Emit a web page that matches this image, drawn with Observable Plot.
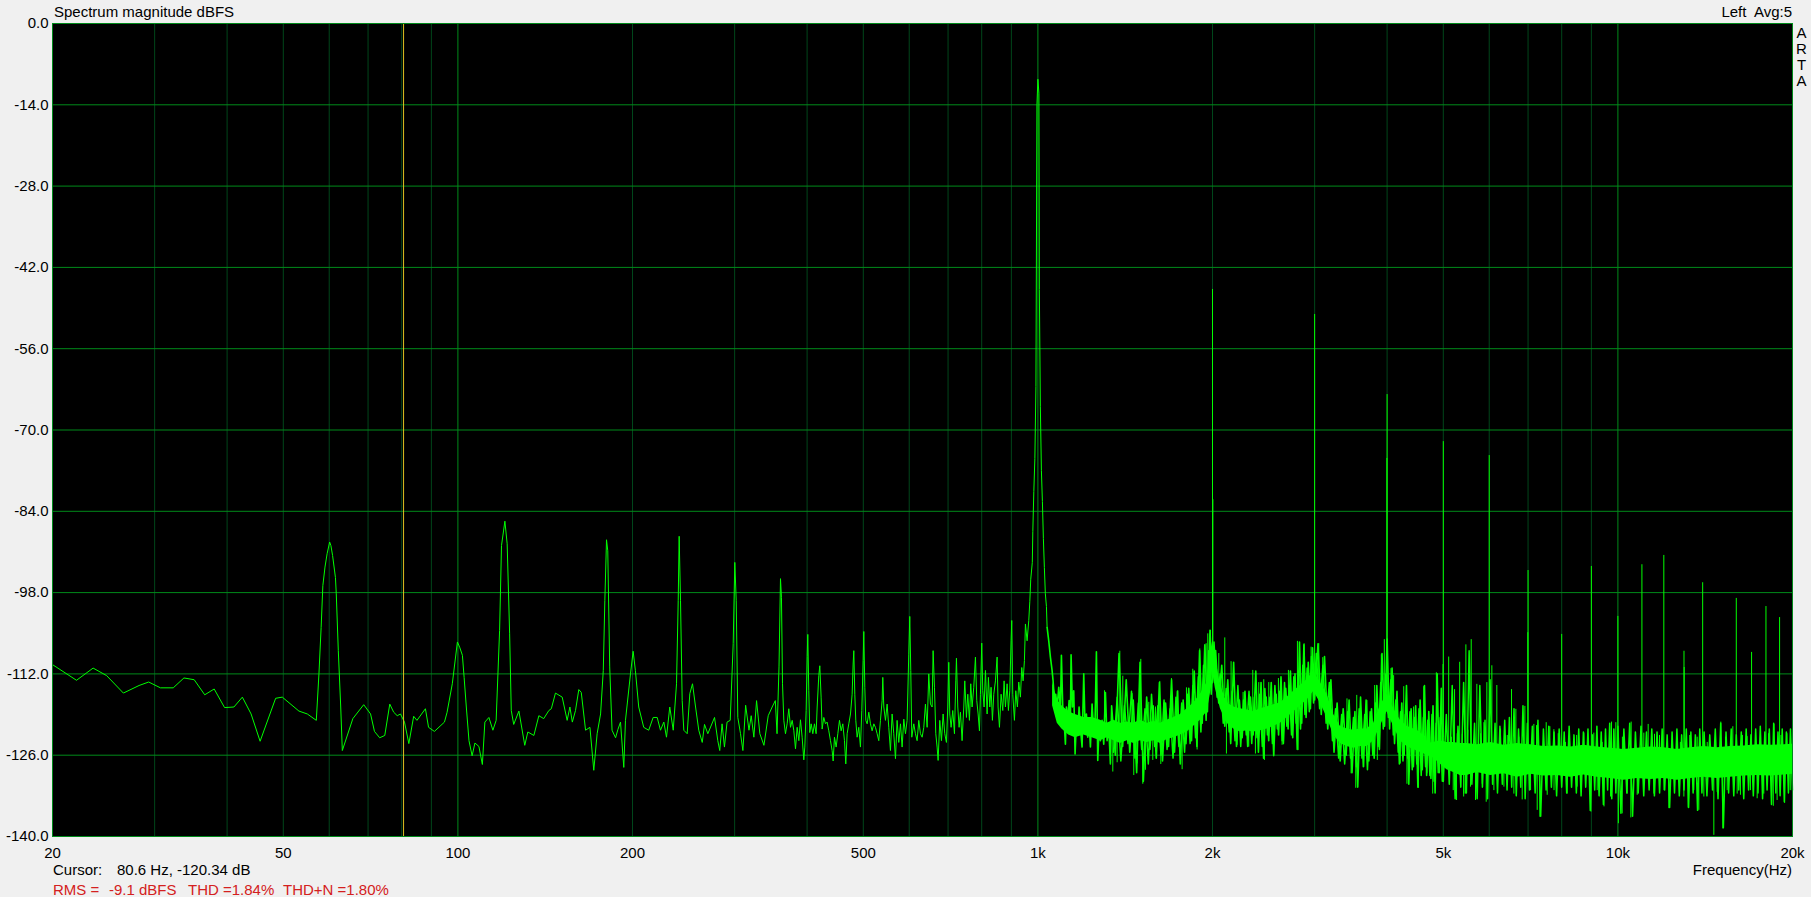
<!DOCTYPE html>
<html><head><meta charset="utf-8">
<script src="https://cdn.jsdelivr.net/npm/d3@7"></script>
<script src="https://cdn.jsdelivr.net/npm/@observablehq/plot@0.6"></script>
<style>
html,body{margin:0;padding:0;background:#f0f0f0;overflow:hidden;}
#wrap{position:relative;width:1811px;height:897px;font-family:"Liberation Sans",Arial,sans-serif;font-size:15px;color:#000;}
#wrap svg{position:absolute;left:0;top:0;}
.t{position:absolute;line-height:15px;white-space:pre;}
.red{color:#d42020;}
</style></head><body><div id="wrap"></div>
<script>
// ---- trace as a polyline, 20 Hz .. 20 kHz (dB values) ----
const lineF = [20,22.0,23.5,24.8,26.5,28.2,29.3,30.7,32.3,33.7,35.1,36.6,38.0,39.6,41.1,42.5,44.0,45.6,48.5,49.8,53.2,55.0,57.0,57.6,58.1,58.5,59.0,59.5,60.1,60.4,60.8,61.5,61.7,62.2,62.8,63.2,65.9,68.8,70.7,71.8,73.3,74.8,76.3,77.5,78.6,79.6,80.9,82.3,83.9,85.0,87.9,89.0,91.1,94.8,95.8,97.8,99.8,100.7,101.8,102.5,103.4,104.5,105.8,107.0,108.7,110.2,111.3,113.1,114.9,116.4,118.0,118.9,120.5,121.6,122.8,123.6,124.8,127.4,130.4,132.0,135.2,137.9,140.6,143.5,144.9,147.3,151.3,154.3,156.0,157.5,159.5,161.6,163.2,166.0,168.9,171.5,173.8,176.2,178.1,179.2,180.4,181.3,182.7,184.4,187.0,188.7,190.7,193.2,194.5,198.4,200.5,202.3,205.0,209.1,213.3,217.1,220.6,223.5,226.5,228.9,231.9,235.1,238.2,239.8,240.7,242.0,243.6,245.2,248.5,251.1,253.8,256.9,260.2,263.8,266.2,269.7,277.0,280.6,282.8,285.4,288.1,291.1,294.8,298.3,300.2,301.9,303.8,307.1,310.0,313.4,317.6,320.4,323.8,327.3,331.6,337.0,342.8,348.2,352.6,355.0,357.8,359.9,361.3,362.8,
364.7,367.1,369.5,372.0,374.5,377.0,379.5,382.0,384.5,387.1,389.6,392.2,394.8,396.4,398.5,400.1,401.1,402.7,404.3,406.5,409.2,411.9,414.6,416.3,419.0,420.7,422.9,424.6,427.4,430.3,433.1,436.0,438.9,441.8,443.6,445.9,448.9,451.9,454.9,457.9,460.9,464.0,466.4,468.9,472.0,475.2,478.3,480.2,481.5,483.4,485.3,487.9,491.1,494.4,497.0,499.7,501.0,503.0,505.0,507.7,511.0,514.4,517.8,521.3,524.7,528.2,531.7,535.2,538.8,540.2,542.4,546.0,549.6,553.2,556.9,560.6,564.3,568.1,571.8,575.6,579.5,583.3,587.2,591.1,595.0,598.9,601.3,603.7,606.1,610.9,615.0,619.1,623.2,627.3,631.5,635.7,639.9,644.2,648.4,652.7,657.1,659.7,663.2,666.7,670.2,672.9,677.4,681.9,686.4,690.9,695.5,699.2,702.0,704.8,708.5,713.2,718.0,721.8,723.7,727.5,731.4,735.3,740.1,745.1,748.0,753.0,757.0,762.0,766.0,770.1,775.2,780.4,784.5,788.7,792.9,796.0,800.2,803.4,807.7,812.0,817.4,821.7,826.1,830.4,834.8,839.3,844.9,850.5,853.8,858.4,864.1,869.8,874.4,879.1,884.9,889.6,894.3,899.0,901.4,905.0,911.0,915.9,921.9,926.8,933.0,937.9,942.9,947.9,951.7,958.0,964.4,
968.4,972.0,978.0,980.0,983.9,988.0,992.2,996.2,1000.0,1004.0,1005.8,1009.8,1014.0,1018.0,1022.0,1026.0,1030.0,1034.5,
1037.2,1044.0,1050.9,1057.9,1062.1,1067.8,1073.4,1079.1,1086.3,1093.5,1097.8,1103.7,1109.5,1115.4,1119.9,1125.8,1131.8,1137.8,1140.8,1146.9,1152.9,1159.1,1165.2,1171.4,1177.6,1183.8,1191.7,1199.6,1206.0,1212.4,1218.8,1225.3,1231.8,1240.0,1248.2,1254.8,1261.5,1268.2,1274.9,1281.7,1290.2,1298.7,1307.4,1316.1,1324.8,1333.6,
1340,1360,1380,1400,1420,1440,1460,1480,1500,1520,1540,1560,1580,1600,1620,1640,1660,1680,1700,1720,1740,1760,1780,1800,1820,1840,1860,1880,1900,1920,1940,1960,1980,2000,
2025,2050,2075,2100,2125,2150,2175,2200,2225,2250,2275,2300,2325,2350,2375,2400,2425,2450,2475,2500,2525,2550,2575,2600,2625,2650,2675,2700,2725,2750,2775,2800,2825,2850,2875,2900,2925,2950,2975,3000,
3040,3080,3120,3160,3200,3240,3280,3320,3360,3400,3440,3480,3520,3560,3600,3640,3680,3720,3760,3800,3840,3880,3920,3960,4000,4040,4080,4120,4160,4200,4240,4280,4320,4360,4400,4440,4480,4520,4560,4600,4640,4680,4720,4760,4800,4840,4880,4920,4960,5000,
5060,5120,5180,5240,5300,5360,5420,5480,5540,5600,5660,5720,5780,5840,5900,5960,6020,6080,6140,6200,6260,6320,6380,6440,6500,6560,6620,6680,6740,6800,6860,6920,6980,7040,
7120,7200,7280,7360,7440,7520,7600,7680,7760,7840,7920,8000,8080,8160,8240,8320,8400,8480,8560,8640,8720,8800,8880,8960,9040,9120,9200,9280,9360,9440,9520,9600,9680,9760,9840,9920,10000,
10120,10240,10360,10480,10600,10720,10840,10960,11080,11200,11320,11440,11560,11680,11800,11920,12040,12160,12280,12400,12520,12640,12760,12880,13000,13120,13240,13360,13480,13600,13720,13840,13960,14080,
14240,14400,14560,14720,14880,15040,15200,15360,15520,15680,15840,16000,16160,16320,16480,16640,16800,16960,17120,17280,17440,17600,17760,17920,18080,18240,18400,18560,18720,18880,19040,19200,19360,19520,19680,19840,20000];
const lineDb = [-110.4,-113.1,-111.0,-112.3,-115.3,-114.0,-113.4,-114.4,-114.4,-112.7,-113.0,-115.6,-114.6,-117.8,-117.7,-116.0,-118.9,-123.6,-116.2,-116.0,-118.4,-118.9,-120.0,-112.0,-104.0,-96.8,-93.6,-91.3,-89.3,-89.9,-91.6,-95.4,-98.2,-108.0,-117.7,-125.2,-119.7,-117.3,-118.9,-121.9,-123.0,-122.6,-117.2,-118.6,-119.2,-118.9,-120.3,-124.0,-119.3,-120.0,-118.0,-121.2,-121.9,-120.3,-118.6,-113.7,-106.5,-107.4,-108.8,-112.6,-117.7,-123.5,-126.1,-123.9,-124.5,-127.6,-120.3,-119.5,-121.7,-120.0,-104.5,-89.9,-85.7,-89.6,-105.1,-118.3,-120.7,-118.4,-124.3,-122.0,-122.6,-119.2,-119.7,-118.3,-118.0,-115.3,-116.0,-120.0,-117.7,-120.3,-118.3,-114.7,-115.2,-121.7,-121.2,-128.6,-122.3,-118.9,-111.4,-99.4,-88.9,-90.8,-110.8,-121.7,-123.0,-121.6,-120.3,-128.1,-120.0,-112.0,-108.1,-111.4,-117.7,-121.2,-121.7,-119.5,-119.5,-121.7,-120.3,-122.9,-117.7,-121.7,-113.7,-99.4,-88.3,-99.4,-116.6,-121.7,-122.3,-115.4,-113.7,-117.7,-121.7,-123.8,-120.7,-122.3,-119.5,-123.5,-125.2,-120.6,-124.6,-120.3,-120.0,-106.8,-92.8,-99.4,-119.5,-122.3,-125.2,-117.4,-121.7,-119.2,-122.9,-116.6,-122.3,-124.3,-119.2,-117.7,-116.6,-122.3,-110.8,-95.6,-98.8,-113.7,
-120.0,-122.3,-120.6,-118.0,-121.2,-120.0,-121.8,-124.9,-121.2,-123.5,-119.9,-122.9,-126.8,-124.6,-118.3,-109.0,-105.2,-114.9,-122.1,-120.6,-122.3,-120.6,-122.3,-117.7,-112.3,-110.6,-116.0,-121.5,-119.5,-120.6,-120.3,-121.8,-123.5,-125.2,-127.0,-122.9,-124.6,-122.3,-120.0,-121.8,-120.6,-123.5,-127.5,-122.3,-120.6,-118.9,-115.5,-110.3,-108.0,-115.5,-120.0,-122.9,-121.2,-124.6,-118.3,-109.7,-104.7,-114.3,-120.0,-120.6,-118.6,-120.6,-121.8,-120.6,-121.2,-122.3,-123.5,-120.0,-116.6,-112.6,-117.7,-120.0,-117.2,-121.2,-125.2,-118.9,-122.3,-126.6,-120.0,-123.8,-120.6,-124.6,-119.8,-122.3,-120.0,-108.6,-102.1,-111.4,-122.9,-120.6,-122.3,-123.5,-120.0,-122.3,-122.9,-121.2,-117.2,-121.2,-112.0,-117.2,-117.7,-108.0,-114.3,-122.3,-124.6,-126.9,-120.0,-123.5,-118.9,-122.3,-123.8,-117.7,-110.0,-118.9,-121.2,-118.3,-122.3,-113.2,-109.3,-117.7,-121.2,-118.6,-123.5,-117.7,-113.2,-119.5,-115.5,-120.0,-113.7,-117.7,-114.3,-109.1,-116.6,-118.9,-121.8,-115.5,-106.7,-114.9,-117.7,-111.4,-118.9,-112.6,-117.7,-114.3,-120.0,-115.5,-113.2,-109.1,-117.7,-121.2,-115.5,-118.3,-113.2,-117.7,-113.7,-118.3,-114.9,-106.3,-102.8,-115.5,-120.0,-114.9,-117.7,-113.4,-116.0,-110.9,-113.2,-109.7,-103.4,-106.3,-102.8,
-99.5,-95.7,-92.8,-87.5,-80.6,-74.9,-62.5,-14.0,-9.6,-12.0,-45.8,-66.0,-77.0,-82.3,-88.7,-93.7,-98.2,-100.4,
-104.0,-106.3,-109.1,-111.4,-113.2,-116.6,-115.5,-117.7,-114.3,-118.3,-108.8,-117.7,-120.0,-124.1,-117.7,-120.0,-116.6,-120.0,-108.7,-117.7,-114.9,-125.8,-120.0,-122.3,-117.7,-121.2,-124.6,-112.0,-121.2,-118.9,-122.9,-120.0,-124.6,-117.2,-122.3,-120.0,-108.2,-126.9,-121.2,-123.5,-120.0,-124.1,-115.2,-123.5,-121.2,-127.5,
-117.5,-126.0,-108.5,-124.5,-113.0,-125.5,-116.5,-129.0,-110.0,-130.5,-116.0,-125.0,-117.5,-126.5,-113.5,-127.0,-117.0,-124.5,-113.0,-125.5,-115.0,-127.5,-116.5,-124.0,-114.5,-123.5,-111.5,-124.5,-108.0,-120.5,-107.0,-118.5,-104.5,-113.5,
-108.0,-117.0,-110.5,-121.0,-113.0,-124.0,-110.0,-124.5,-116.5,-123.0,-115.0,-124.5,-116.0,-122.5,-111.5,-125.5,-113.5,-126.5,-116.0,-123.5,-113.5,-126.0,-115.5,-122.5,-112.5,-124.0,-114.5,-121.5,-111.5,-123.0,-112.0,-125.0,-106.5,-120.5,-107.0,-119.5,-110.0,-118.0,-107.5,-116.5,
-106.8,-119.0,-109.0,-121.5,-113.0,-125.5,-117.0,-127.0,-118.0,-126.0,-116.5,-129.0,-118.5,-131.5,-116.0,-128.0,-116.5,-127.0,-118.0,-126.5,-114.0,-125.0,-108.5,-121.0,-106.0,-121.5,-111.0,-124.0,-115.0,-127.5,-117.0,-126.0,-114.0,-131.0,-118.0,-128.0,-117.5,-131.5,-116.5,-128.5,-114.0,-129.5,-118.5,-130.0,-117.5,-132.5,-112.0,-129.0,-114.5,-130.5,
-119.0,-131.0,-114.0,-133.5,-121.0,-131.5,-113.5,-132.5,-108.0,-131.0,-120.5,-133.5,-114.0,-131.5,-120.0,-133.5,-113.0,-131.0,-120.5,-132.5,-121.0,-131.0,-120.0,-132.0,-119.5,-131.5,-118.0,-133.0,-121.5,-131.5,-117.5,-133.5,-120.5,-132.0,
-121.0,-132.5,-120.0,-136.5,-121.5,-132.0,-121.0,-131.5,-122.0,-133.0,-121.5,-131.5,-122.0,-132.5,-121.0,-131.5,-122.5,-132.5,-121.5,-133.0,-122.0,-131.5,-121.5,-135.5,-122.5,-132.0,-121.0,-133.0,-122.0,-134.5,-121.5,-132.0,-120.5,-133.5,-121.5,-132.5,-121.0,
-136.0,-121.5,-132.5,-120.5,-136.5,-122.0,-132.5,-121.0,-133.0,-122.0,-132.0,-121.5,-133.0,-122.0,-132.5,-121.5,-132.0,-122.5,-135.0,-122.0,-132.5,-121.5,-133.0,-122.5,-132.0,-121.5,-135.0,-122.0,-132.5,-122.5,-135.5,-121.5,-132.5,-122.0,
-133.0,-122.5,-132.0,-121.5,-133.5,-120.5,-138.5,-122.0,-132.5,-121.5,-133.0,-122.5,-132.0,-122.0,-133.5,-121.5,-132.0,-122.5,-133.0,-121.5,-132.5,-121.0,-133.5,-122.0,-132.0,-121.5,-134.5,-120.5,-132.5,-122.0,-133.0,-121.5,-134.0,-122.0,-132.5,-121.5,-132.0];

// ---- interleaved bins of the noise floor between 1.35 and 5 kHz ----
const line2F = [1350,1370,1390,1410,1430,1450,1470,1490,1510,1530,1550,1570,1590,1610,1630,1650,1670,1690,1710,1730,1750,1770,1790,1810,1830,1850,1870,1890,1910,1930,1950,1970,1990,
2012,2037,2062,2087,2112,2137,2162,2187,2212,2237,2262,2287,2312,2337,2362,2387,2412,2437,2462,2487,2512,2537,2562,2587,2612,2637,2662,2687,2712,2737,2762,2787,2812,2837,2862,2887,2912,2937,2962,2987,
3020,3060,3100,3140,3180,3220,3260,3300,3340,3380,3420,3460,3500,3540,3580,3620,3660,3700,3740,3780,3820,3860,3900,3940,3980,4020,4060,4100,4140,4180,4220,4260,4300,4340,4380,4420,4460,4500,4540,4580,4620,4660,4700,4740,4780,4820,4860,4900,4940,4980];
const line2Db = [-125.5,-116.0,-127.0,-117.5,-124.0,-115.0,-126.5,-117.0,-125.0,-118.0,-127.5,-115.5,-124.5,-117.5,-126.0,-116.5,-125.0,-118.0,-126.5,-116.0,-124.5,-117.0,-125.5,-115.5,-124.0,-114.0,-123.0,-112.5,-122.0,-110.5,-120.0,-108.0,-115.5,
-106.5,-116.0,-112.0,-120.5,-114.5,-122.0,-115.0,-123.5,-114.0,-124.5,-116.5,-122.5,-115.0,-124.0,-116.0,-123.0,-115.5,-124.5,-114.5,-122.5,-116.0,-124.0,-114.0,-121.5,-115.0,-123.5,-113.5,-121.0,-114.0,-122.5,-112.5,-120.5,-111.5,-121.5,-110.5,-119.0,-111.0,-118.5,-109.0,-117.0,
-108.5,-118.0,-110.5,-120.5,-113.5,-123.5,-118.0,-126.5,-119.0,-127.5,-118.5,-126.5,-119.5,-128.0,-118.0,-126.5,-119.0,-128.5,-118.5,-126.0,-117.0,-124.5,-113.5,-121.5,-112.0,-119.5,-113.0,-122.5,-116.5,-125.5,-118.5,-127.0,-119.0,-126.5,-118.5,-128.5,-119.5,-127.5,-118.0,-129.5,-119.5,-128.0,-120.0,-129.5,-119.0,-130.5,-120.5,-129.0,-119.5,-130.5];

// ---- solid core of the noise floor ----
const bandF  = [1060,1080,1100,1130,1160,1200,1240,1282,1316,1352,1388,1425,1463,1502,1543,1584,1627,1670,1715,1761,1808,1856,1906,1957,1983,2000,2023,2064,2119,2176,2234,2294,2356,2419,2484,2550,2618,2689,2761,2835,2911,2989,3069,3151,3235,3322,3411,3503,3596,3693,3792,3893,3998,4105,4215,4328,4444,4563,
4685,4811,4940,5072,5208,5348,5491,5721,6032,6360,6705,7070,7454,7859,8286,8736,9211,9712,10240,10796,11383,12001,12653,13341,14066,14830,15636,16486,17382,18326,19322,20000];
const bandLo = [-117.5,-120.5,-121.5,-122.5,-123.0,-122.5,-123.0,-123.5,-123.0,-123.5,-124.0,-123.5,-124.0,-123.5,-123.8,-123.5,-124.0,-123.3,-123.0,-122.5,-122.0,-121.0,-120.0,-118.5,-115.5,-111.5,-114.5,-118.0,-120.5,-121.5,-122.0,-121.8,-122.0,-121.8,-121.5,-121.0,-120.5,-119.5,-118.5,-117.5,-116.5,-115.0,-117.0,-119.5,-122.5,-124.0,-124.5,-124.8,-124.5,-124.5,-123.5,-121.0,-118.5,-121.0,-123.5,-124.5,-125.0,-125.5,
-126,-126.5,-127.5,-128.5,-129,-129.5,-129.5,-129,-129.5,-129.2,-129.8,-129.3,-129.6,-129.5,-129.8,-129.4,-129.8,-130,-130.3,-130,-130.2,-130,-130.3,-130,-129.8,-130,-129.8,-129.6,-129.5,-129.6,-129.4,-129.3];
const bandHi = [-113.5,-116.5,-117.5,-118.5,-119.0,-119.5,-119.5,-120.0,-120.5,-120.0,-120.5,-120.3,-120.5,-120.0,-120.5,-120.2,-120.5,-120.0,-119.5,-119.0,-118.0,-117.0,-115.5,-113.5,-108.5,-106.5,-109.0,-114.0,-117.0,-117.7,-118.0,-118.2,-118.5,-118.0,-117.7,-117.3,-117.0,-116.0,-115.0,-114.0,-113.0,-111.5,-113.5,-115.5,-119.0,-121.0,-121.5,-121.7,-121.5,-121.5,-120.5,-117.5,-115.5,-118.0,-120.0,-121.0,-121.5,-122.0,
-124,-123.8,-123.5,-123.8,-123.8,-124,-124,-124.2,-123.8,-124.3,-124,-124.2,-124.5,-124.4,-124.6,-124.3,-124.6,-124.8,-125,-124.8,-124.6,-124.7,-125,-124.7,-124.5,-124.7,-124.5,-124.4,-124.2,-124.3,-124.2,-124.1];

// ---- single-bin spikes (harmonics and noise peaks / dips) ----
const spikeF = [2000,2003,3000,3997,4000,5000,6000,6994,7000,8000,9000,10000,11000,12000,13000,13010,14000,16000,17000,18000,19000,
1302.5,1346.3,1369.7,1384.2,1400.7,1453.7,1463.2,1482.8,1498.6,1504.6,1516.5,1532.7,1553.1,1577.9,1594.8,1622.4,1628.9,1648.3,1699.4,1742.7,1772.9,1803.6,1849.4,1881.5,1901.6,1950.0,1962.9,1983.8,2018.2,2050.5,2099.8,2113.7,2153.3,2205.2,2258.4,2309.8,2346.7,2371.6,2403.2,2451.4,2457.9,2500.6,2550.1,2598.4,2636.5,2703.6,2802.0,2809.4,2877.0,2958.1,3049.5,3098.3,3411.1,3467.4,3532.1,3546.2,3646.0,3692.8,3807.3,3847.8,3909.4,3956.2,4062.2,4104.9,4214.9,4273.2,4327.8,4443.8,4529.5,4626.2,4685.2,4794.0,4864.3,4994.6,5107.9,5265.5,5335.6,5420.9,
5228.4,5468.8,5585.6,5712.1,5944.1,6062.8,6183.8,6555.2,6669.4,6912.2,5270.0,5461.7,5681.8,5928.6,6839.2,7335.8,7552.5,7633.0,8986.4,9463.9,9749.5,10171,10527,10540,11277,12241,13217,13789,14635,15047,15167,15781,16055,17382,18533,18582,19385,10020,
5166,5284,5390,5512,5797,5874,6276,6445,6749,7163,7240,7523,7755,7890,8123,8490,8736,9089,9395,9919,10180,10724,11084,11564,11796,12396,12814,13298,13698,14256,14732,15328,16397,16703,17613,18181,19105,19564,
5201,5426,5571,5835,6112,6360,6617,7070,7259,7760,8176,8507,9211,9712,10375,10796,11533,12010,12994,13518,14066,14830,15430,16267,16927,17847,18815,19825];
const spikeBase = [-111,-111,-113,-117,-117,-124,-127,-127,-127,-127,-127,-127,-127,-127,-127,-127,-127,-127,-127,-127,-127,
-121,-123,-123,-121,-121,-121,-123,-123,-121,-121,-123,-123,-121,-123,-121,-121,-123,-121,-121,-120,-122,-119,-118,-120,-117,-115,-115,-113,-112,-114,-116,-117,-118,-120,-119,-120,-119,-120,-119,-119,-120,-119,-119,-118,-118,-117,-116,-116,-115,-114,-115,-116,-122,-123,-123,-122,-123,-122,-121,-122,-119,-117,-118,-119,-122,-121,-122,-122,-123,-122,-124,-124,-123,-123,-125,-126,-125,-126,
-126,-126,-126,-126,-126,-126,-126,-126,-126,-126,-127,-127,-127,-127,-127,-127,-127,-126,-127,-127,-126,-127,-127,-126,-126,-127,-127,-127,-127,-126,-127,-126,-127,-127,-127,-126,-127,-127,
-126,-126,-126,-126,-126,-126,-126,-126,-126,-126,-126,-126,-126,-126,-126,-126,-126,-126,-126,-126,-126,-126,-126,-126,-126,-126,-126,-126,-126,-126,-126,-126,-126,-126,-126,-126,-126,-126,
-127,-127,-127,-127,-127,-127,-127,-127,-127,-127,-127,-127,-127,-127,-127,-127,-127,-127,-127,-127,-127,-127,-127,-127,-127,-127,-127,-127];
const spikeTip = [-45.8,-82.0,-50.1,-74.9,-63.9,-72.0,-74.4,-104.9,-94.2,-105.2,-93.5,-102.1,-93.2,-91.6,-108.1,-110.9,-96.3,-99.0,-108.3,-100.4,-102.3,
-114.9,-128.9,-127.3,-108.1,-112.4,-115.4,-129.5,-127.5,-113.0,-109.5,-131.0,-128.6,-116.9,-126.9,-117.7,-113.3,-127.6,-117.0,-112.8,-114.9,-128.5,-114.4,-111.2,-125.1,-107.7,-106.8,-105.1,-104.5,-108.0,-108.5,-105.8,-125.8,-109.9,-124.3,-115.2,-124.6,-111.4,-125.8,-113.5,-113.0,-126.9,-113.5,-126.3,-112.8,-124.3,-111.4,-106.4,-125.2,-106.8,-107.4,-106.8,-109.2,-116.3,-129.2,-131.7,-115.7,-128.1,-116.6,-114.0,-126.9,-108.7,-106.1,-111.1,-112.3,-127.5,-114.2,-131.0,-117.7,-131.7,-114.2,-129.2,-132.7,-111.8,-110.4,-109.1,-133.8,-110.0,-133.2,
-114.7,-107.0,-106.1,-113.8,-113.5,-110.6,-114.0,-114.7,-118.1,-117.6,-133.8,-132.7,-133.8,-134.1,-133.7,-136.7,-132.9,-121.1,-135.8,-134.9,-120.3,-136.1,-136.8,-120.3,-120.7,-135.2,-135.1,-135.5,-139.8,-120.3,-138.7,-121.1,-132.7,-133.5,-134.8,-120.7,-134.3,-137.8,
-122.9,-122.3,-122.4,-121.7,-122.3,-120.4,-121.5,-122.6,-122.9,-120.7,-120.9,-120.4,-121.6,-122.3,-123.8,-122.6,-122.2,-122.2,-123.8,-120.4,-122.9,-122.3,-122.2,-122.4,-122.6,-123.5,-123.8,-122.6,-122.9,-123.8,-123.5,-122.9,-122.6,-122.8,-121.7,-122.3,-122.6,-122.3,
-132.1,-132.7,-131.5,-131.0,-132.1,-131.5,-132.7,-132.1,-135.5,-132.1,-132.7,-131.5,-132.1,-133.2,-132.7,-132.9,-132.7,-132.1,-133.2,-132.1,-133.2,-132.4,-132.1,-132.9,-132.1,-132.7,-133.8,-132.1];

// ---- axes / grid ----
const xTicks = [20,50,100,200,500,1000,2000,5000,10000,20000];
const xTickLabels = ["20","50","100","200","500","1k","2k","5k","10k","20k"];
const yTicks = [0,-14,-28,-42,-56,-70,-84,-98,-112,-126,-140];
const minorGridF = [30,40,50,60,70,80,90,200,300,400,500,600,700,800,900,2000,3000,4000,5000,6000,7000,8000,9000];
const majorGridF = [100,1000,10000];
const cursorF = 80.6;

const line = lineF.map((f,i)=>({f, db: lineDb[i]}));
const lineLow = line.filter(d => d.f <= 1037.2);
const lineMid = line.filter(d => d.f >= 1037.2 && d.f <= 5000);
const lineHigh = line.filter(d => d.f >= 5000);
const line2 = line2F.map((f,i)=>({f, db: line2Db[i]}));
const band = bandF.map((f,i)=>({f, lo: bandLo[i], hi: bandHi[i]}));
const spikes = spikeF.map((f,i)=>({f, base: spikeBase[i], tip: spikeTip[i]}));
const hGrid = yTicks.filter(v => v !== 0 && v !== -140);

const TRACE = "#00ff00";
const chart = Plot.plot({
  width: 1811, height: 897,
  marginLeft: 52, marginRight: 19, marginTop: 23, marginBottom: 61,
  style: {background: "transparent", fontFamily: "'Liberation Sans', Arial, sans-serif", fontSize: "15px", color: "#000", overflow: "visible"},
  x: {type: "log", domain: [20, 20000], axis: null},
  y: {domain: [-140, 0], ticks: yTicks, tickFormat: d => d.toFixed(1), tickSize: 0, tickPadding: 4, label: null},
  marks: [
    Plot.frame({fill: "#000000", stroke: "none"}),
    Plot.ruleX(minorGridF, {stroke: "#00461a", strokeWidth: 1}),
    Plot.ruleX(majorGridF, {stroke: "#008a1a", strokeWidth: 1}),
    Plot.ruleY(hGrid, {stroke: "#008a1a", strokeWidth: 1}),
    Plot.areaY(band, {x: "f", y1: "lo", y2: "hi", fill: TRACE}),
    Plot.ruleX(spikes, {x: "f", y1: "base", y2: "tip", stroke: TRACE, strokeWidth: 1}),
    Plot.line(line2, {x: "f", y: "db", stroke: TRACE, strokeWidth: 1.5}),
    Plot.line(lineLow, {x: "f", y: "db", stroke: TRACE, strokeWidth: 1}),
    Plot.line(lineMid, {x: "f", y: "db", stroke: TRACE, strokeWidth: 1.6}),
    Plot.line(lineHigh, {x: "f", y: "db", stroke: TRACE, strokeWidth: 1.5}),
    Plot.ruleX([cursorF], {stroke: "#e0c020", strokeWidth: 1}),
    Plot.frame({stroke: "#008a1a", strokeWidth: 1}),
    Plot.text(xTicks, {x: d => d, text: (d, i) => xTickLabels[i], frameAnchor: "bottom", lineAnchor: "top", dy: 11, fill: "#000", fontSize: 15})
  ]
});
const wrap = document.getElementById("wrap");
wrap.appendChild(chart);

function addText(txt, css, cls) {
  const d = document.createElement("div");
  d.className = "t" + (cls ? " " + cls : "");
  d.textContent = txt;
  Object.assign(d.style, css);
  wrap.appendChild(d);
}
addText("Spectrum magnitude dBFS", {left: "54px", top: "4px"});
addText("Left  Avg:5", {right: "19px", top: "4px"});
const arta = document.createElement("div");
arta.className = "t";
Object.assign(arta.style, {left: "1793px", top: "25px", width: "17px", textAlign: "center", lineHeight: "16px", whiteSpace: "normal"});
arta.innerHTML = "A<br>R<br>T<br>A";
wrap.appendChild(arta);
addText("Cursor:", {left: "53px", top: "862px"});
addText("80.6 Hz, -120.34 dB", {left: "117px", top: "862px"});
addText("Frequency(Hz)", {right: "19px", top: "862px"});
addText("RMS =", {left: "53px", top: "882px"}, "red");
addText("-9.1 dBFS", {left: "109px", top: "882px"}, "red");
addText("THD =1.84%", {left: "188px", top: "882px"}, "red");
addText("THD+N =1.80%", {left: "283px", top: "882px"}, "red");
</script></body></html>
